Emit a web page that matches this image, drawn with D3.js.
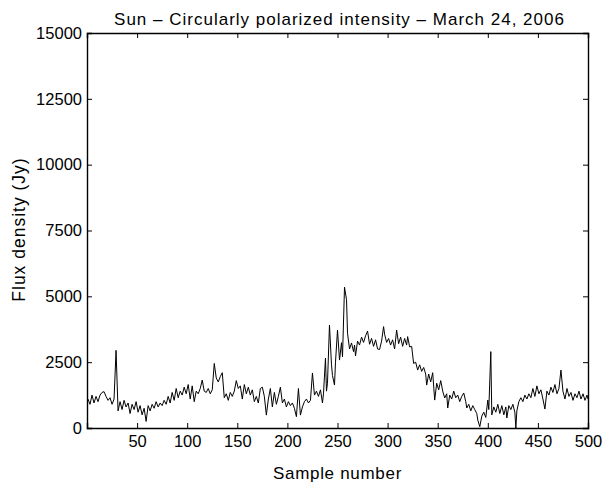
<!DOCTYPE html>
<html>
<head>
<meta charset="utf-8">
<script src="https://cdn.jsdelivr.net/npm/d3@7"></script>
<style>
  body { margin: 0; background: #fff; }
  text { font-family: "Liberation Sans", Arial, Helvetica, sans-serif; fill: #000; }
</style>
</head>
<body>
<div id="container"></div>
<script>
const WIDTH = 608,
      HEIGHT = 486;

const margin = { top: 33, bottom: 58, left: 87, right: 20 };

const width = WIDTH - margin.left - margin.right,
      height = HEIGHT - margin.top - margin.bottom;

const titleText = "Sun \u2013 Circularly polarized intensity \u2013 March 24, 2006";
const xLabelText = "Sample number";
const yLabelText = "Flux density (Jy)";

const xTicks = [50, 100, 150, 200, 250, 300, 350, 400, 450, 500];
const yTicks = [0, 2500, 5000, 7500, 10000, 12500, 15000];

// valores (aprox.)
const sampleNumber = [
  1, 3, 5, 7, 9, 11, 13, 15, 17, 19, 21, 23, 25, 27, 29,
  31, 33, 35, 37, 39, 41, 43, 45, 47, 49, 51, 53, 55, 57, 59,
  61, 63, 65, 67, 69, 71, 73, 75, 77, 79, 81, 83, 85, 87, 89,
  91, 93, 95, 97, 99, 101, 103, 105, 107, 109, 111, 113, 115, 117, 119,
  121, 123, 125, 127, 129, 131, 133, 135, 137, 139, 141, 143, 145, 147, 149,
  151, 153, 155, 157, 159, 161, 163, 165, 167, 169, 171, 173, 175, 177, 179,
  181, 183, 185, 187, 189, 191, 193, 195, 197, 199, 201, 203, 205, 207, 209,
  211, 213, 215, 217, 219, 221, 223, 225, 227, 229, 231, 233, 235, 236, 238,
  239, 240, 242, 244, 245, 247, 248, 250, 252, 254, 255, 257, 259, 260, 262,
  264, 266, 267, 268, 270, 272, 274, 276, 278, 280, 282, 284, 286, 288, 290,
  292, 294, 296, 297, 299, 301, 303, 305, 307, 309, 311, 313, 315, 317, 319,
  320, 322, 324, 326, 328, 330, 332, 334, 336, 338, 339, 341, 343, 345, 347,
  349, 351, 353, 355, 357, 359, 360, 362, 364, 366, 368, 370, 372, 374, 376,
  378, 379, 381, 383, 385, 387, 389, 390, 392, 394, 396, 398, 400, 401, 403,
  404, 406, 408, 410, 412, 414, 416, 418, 419, 421, 423, 425, 427, 428, 429,
  431, 433, 435, 437, 439, 441, 443, 445, 447, 449, 451, 453, 455, 457, 459,
  461, 463, 465, 467, 469, 471, 473, 475, 477, 479, 481, 483, 485, 487, 489,
  491, 493, 495, 497, 499, 500
];

const fluxDensity = [
  1100, 900, 1250, 950, 1200, 1000, 1250, 1350, 1380, 1200, 1050, 1150, 900, 1100, 2950,
  650, 1000, 700, 1050, 800, 950, 550, 900, 700, 1000, 600, 850, 500, 750, 250,
  850, 650, 900, 750, 1000, 800, 950, 850, 1050, 900, 1200, 950, 1350, 1050, 1500,
  1150, 1400, 1250, 1550, 1300, 1650, 1100, 1600, 1000, 1400, 1300, 1500, 1820, 1400, 1350,
  1500, 1300, 1450, 2450, 1900, 1750, 1950, 2100, 1150, 1300, 1050, 1350, 1200, 1400, 1800,
  1500, 1600, 1100, 1650, 1300, 1550, 1250, 1450, 1000, 1200, 950, 1500, 1550, 1200, 490,
  1100, 1500, 800, 1350, 900, 1200, 1550, 950, 1100, 800, 1000, 850, 950, 750, 430,
  1500, 490, 800, 1000, 1100, 950, 1050, 2090, 1250, 1400, 1200, 1450, 950, 1300, 2650,
  1400, 1700, 3910, 2400, 1990, 1630, 2500, 3720, 2580, 3240, 2700, 5350, 4870, 3600, 3000,
  3230, 2900, 3150, 2740, 3300, 3150, 3450, 3250, 3500, 3680, 3180, 3400, 3100, 3350, 3000,
  2980, 3300, 3850, 3560, 3250, 3400, 3150, 3350, 3000, 3720, 3200, 3450, 3100, 3400, 3150,
  3470, 3080, 3100, 2450, 2500, 2200, 2400, 2150, 2300, 2050, 1630, 2050, 1750, 2100, 1060,
  1700, 1450, 1800, 1400, 1140, 1300, 760, 1250, 1100, 1400, 1150, 1250, 1000, 1200, 1330,
  1000, 760, 900, 650, 850, 700, 550, 300, 50, 450, 600, 400, 1060, 700, 2900,
  500, 800, 600, 900, 550, 850, 500, 800, 380, 850, 700, 900, 600, 0, 650,
  1000, 1150, 1000, 1250, 1100, 1300, 1150, 1500, 1200, 1600, 1300, 1450, 1100, 720, 1400,
  1250, 1550, 1350, 1650, 1300, 1500, 2200, 1400, 1100, 1500, 1200, 1350, 1050, 1300, 1150,
  1400, 1100, 1300, 1050, 1250, 1100
];

const data = sampleNumber.map((s, i) => ({ sample: s, flux: fluxDensity[i] }));

const svg = d3.select('#container')
    .append('svg')
    .attr("width", WIDTH)
    .attr("height", HEIGHT);

const container = svg.append('g')
    .attr("transform", `translate(${margin.left}, ${margin.top})`);

const xScale = d3.scaleLinear()
    .domain([0, 500])
    .range([0, width]);

const yScale = d3.scaleLinear()
    .domain([0, 15000])
    .range([height, 0]);

const line = d3.line()
    .x((d) => xScale(d.sample))
    .y((d) => yScale(d.flux));

container.append("path")
    .datum(data)
    .attr("fill", "none")
    .attr("stroke", "#000")
    .attr("stroke-width", 1)
    .attr("d", line);

// ejes con ticks hacia adentro (estilo matplotlib)
const TICK = 5;
const FONT = "16.5px";

const xAxis = d3.axisBottom(xScale).tickValues(xTicks).tickSize(-TICK).tickPadding(7).tickFormat(d3.format("d"));
const xAxisTop = d3.axisTop(xScale).tickValues(xTicks).tickSize(-TICK).tickFormat("");
const yAxis = d3.axisLeft(yScale).tickValues(yTicks).tickSize(-TICK).tickPadding(5).tickFormat(d3.format("d"));
const yAxisRight = d3.axisRight(yScale).tickValues(yTicks).tickSize(-TICK).tickFormat("");

const gx = container.append("g").attr("transform", `translate(0, ${height})`).call(xAxis);
const gxTop = container.append("g").call(xAxisTop);
const gy = container.append("g").call(yAxis);
const gyRight = container.append("g").attr("transform", `translate(${width}, 0)`).call(yAxisRight);

[gx, gxTop, gy, gyRight].forEach((g) => {
    g.select(".domain").attr("stroke", "#000").attr("stroke-width", 1.4);
    g.selectAll(".tick line").attr("stroke", "#000").attr("stroke-width", 1);
    g.selectAll("text")
        .style("font-family", '"Liberation Sans", Arial, Helvetica, sans-serif')
        .style("font-size", FONT)
        .attr("fill", "#000");
});

svg.append("text")
    .attr("x", margin.left + width / 2 + 2)
    .attr("y", 25)
    .attr("text-anchor", "middle")
    .style("font-size", "17px")
    .style("letter-spacing", "1px")
    .text(titleText);

svg.append("text")
    .attr("x", margin.left + width / 2)
    .attr("y", 479)
    .attr("text-anchor", "middle")
    .style("font-size", "17px")
    .style("letter-spacing", "0.7px")
    .text(xLabelText);

svg.append("text")
    .attr("transform", "rotate(-90)")
    .attr("x", -(margin.top + height / 2 - 1))
    .attr("y", 25)
    .attr("text-anchor", "middle")
    .style("font-size", "17.5px")
    .style("letter-spacing", "1px")
    .text(yLabelText);
</script>
</body>
</html>
